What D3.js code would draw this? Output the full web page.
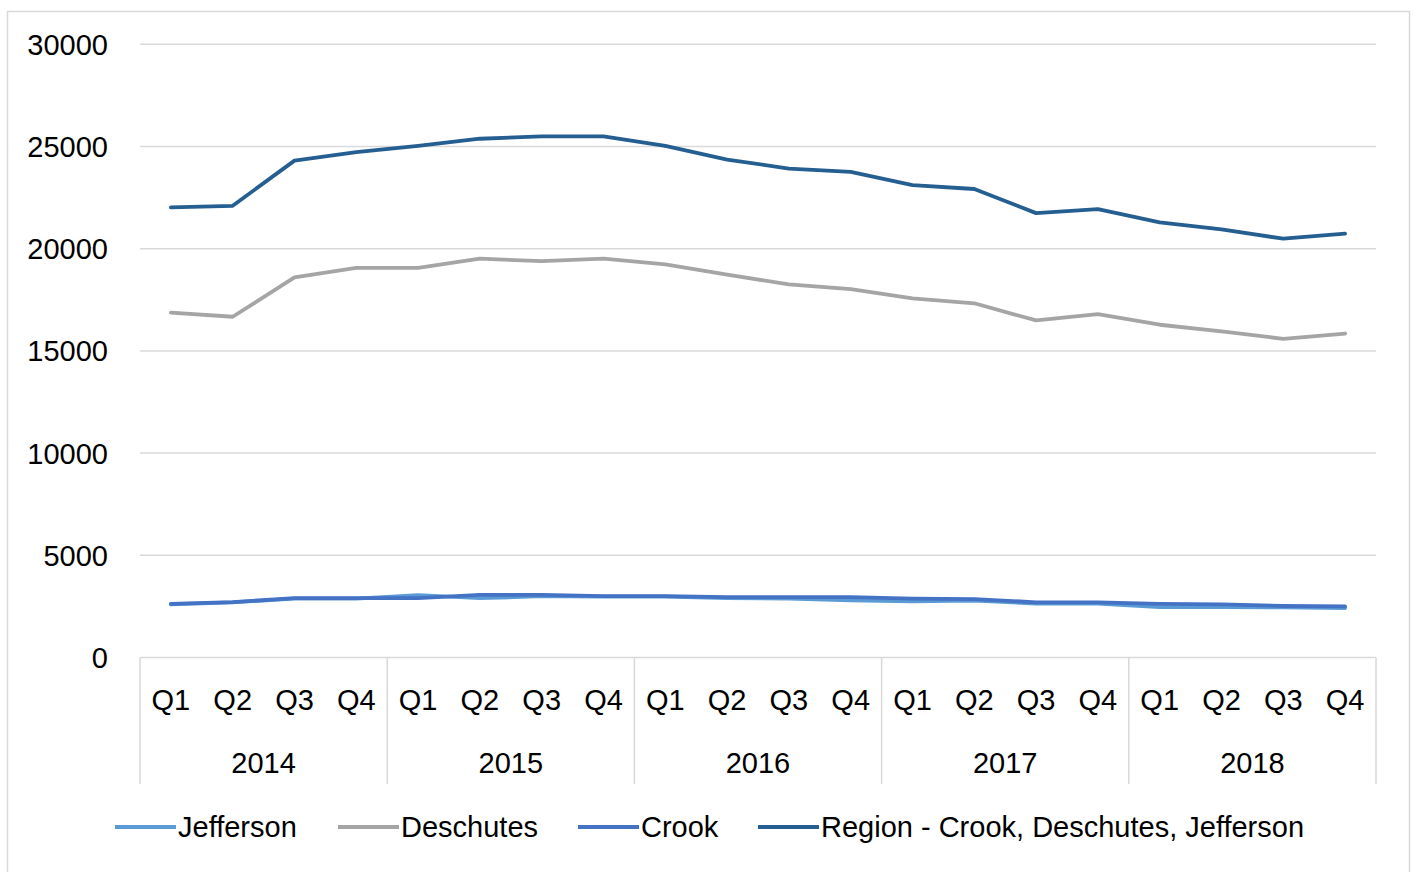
<!DOCTYPE html>
<html>
<head>
<meta charset="utf-8">
<script src="https://cdn.jsdelivr.net/npm/d3@7"></script>
<style>
  html, body { margin: 0; padding: 0; background: #fff; }
  svg { display: block; font-family: "Liberation Sans", Arial, sans-serif; }
</style>
</head>
<body>
<svg id="chart" width="1416" height="872"></svg>
<script>
const years = ["2014", "2015", "2016", "2017", "2018"];
const quarters = ["Q1", "Q2", "Q3", "Q4"];
const yTicks = [0, 5000, 10000, 15000, 20000, 25000, 30000];

const jefferson = [2600, 2700, 2880, 2880, 3050, 2900, 3000, 2980, 2980, 2900, 2880, 2800, 2750, 2780, 2640, 2640, 2460, 2470, 2450, 2420];
const deschutes = [16870, 16670, 18600, 19060, 19060, 19510, 19390, 19510, 19230, 18730, 18250, 18020, 17570, 17330, 16490, 16800, 16280, 15960, 15590, 15850];
const crook = [2620, 2710, 2900, 2900, 2900, 3060, 3060, 3000, 3000, 2950, 2950, 2950, 2880, 2860, 2700, 2700, 2620, 2600, 2520, 2500];
const region = [22020, 22100, 24310, 24730, 25030, 25380, 25500, 25500, 25030, 24360, 23920, 23760, 23115, 22920, 21740, 21940, 21290, 20940, 20490, 20740];

const seriesNames = ["Jefferson", "Deschutes", "Crook", "Region - Crook, Deschutes, Jefferson"];
const seriesColors = ["#5B9BD5", "#A5A5A5", "#4472C4", "#255E91"];
const seriesValues = [jefferson, deschutes, crook, region];

const categories = [];
years.forEach(yr => quarters.forEach(q => categories.push(yr + "-" + q)));

(function () {
const svg = d3.select("#chart");
const plotLeft = 140, plotRight = 1376, plotTop = 44.3, plotBottom = 657.5;

// outer border
svg.append("rect").attr("x", 7.5).attr("y", 11.5).attr("width", 1402).attr("height", 880)
  .attr("fill", "none").attr("stroke", "#d9d9d9").attr("stroke-width", 1.5);

const x = d3.scaleBand().domain(categories).range([plotLeft, plotRight]).paddingInner(0).paddingOuter(0);
const y = d3.scaleLinear().domain([0, 30000]).range([plotBottom, plotTop]);

// gridlines
svg.append("g").selectAll("line").data(yTicks.filter(t => t > 0)).join("line")
  .attr("x1", plotLeft).attr("x2", plotRight)
  .attr("y1", d => y(d)).attr("y2", d => y(d))
  .attr("stroke", "#d9d9d9").attr("stroke-width", 1.5);

// y labels
svg.append("g").selectAll("text").data(yTicks).join("text")
  .attr("x", 108).attr("y", d => y(d)).attr("dy", "0.36em")
  .attr("text-anchor", "end").attr("font-size", 29).attr("fill", "#000")
  .text(d => d);

// x axis line
svg.append("line").attr("x1", plotLeft).attr("x2", plotRight).attr("y1", plotBottom).attr("y2", plotBottom)
  .attr("stroke", "#d9d9d9").attr("stroke-width", 1.5);

// year separators
const yearBounds = years.map(yr => x(yr + "-Q1")).concat([plotRight]);
svg.append("g").selectAll("line").data(yearBounds).join("line")
  .attr("x1", d => d).attr("x2", d => d).attr("y1", plotBottom).attr("y2", 784)
  .attr("stroke", "#d9d9d9").attr("stroke-width", 1.5);

// quarter labels
svg.append("g").selectAll("text").data(categories).join("text")
  .attr("x", d => x(d) + x.bandwidth() / 2).attr("y", 700).attr("dy", "0.36em")
  .attr("text-anchor", "middle").attr("font-size", 29).attr("fill", "#000")
  .text(d => d.split("-")[1]);

// year labels
svg.append("g").selectAll("text").data(years).join("text")
  .attr("x", d => (x(d + "-Q1") + x(d + "-Q4") + x.bandwidth()) / 2).attr("y", 763).attr("dy", "0.36em")
  .attr("text-anchor", "middle").attr("font-size", 29).attr("fill", "#000")
  .text(d => d);

// lines
const line = d3.line().x((d, i) => x(categories[i]) + x.bandwidth() / 2).y(d => y(d));
svg.append("g").selectAll("path").data(seriesValues).join("path")
  .attr("d", d => line(d))
  .attr("fill", "none")
  .attr("stroke", (d, i) => seriesColors[i])
  .attr("stroke-width", 3.8)
  .attr("stroke-linejoin", "round").attr("stroke-linecap", "round");

// legend
const legendX = [115, 338, 578, 758];
const lg = svg.append("g").selectAll("g").data(seriesNames).join("g")
  .attr("transform", (d, i) => `translate(${legendX[i]},827)`);
lg.append("line").attr("x1", 0).attr("x2", 61).attr("y1", 0).attr("y2", 0)
  .attr("stroke", (d, i) => seriesColors[i]).attr("stroke-width", 3.8);
lg.append("text").attr("x", 63).attr("y", 0).attr("dy", "0.36em")
  .attr("font-size", 29).attr("fill", "#000").text(d => d);
})();
</script>
</body>
</html>
